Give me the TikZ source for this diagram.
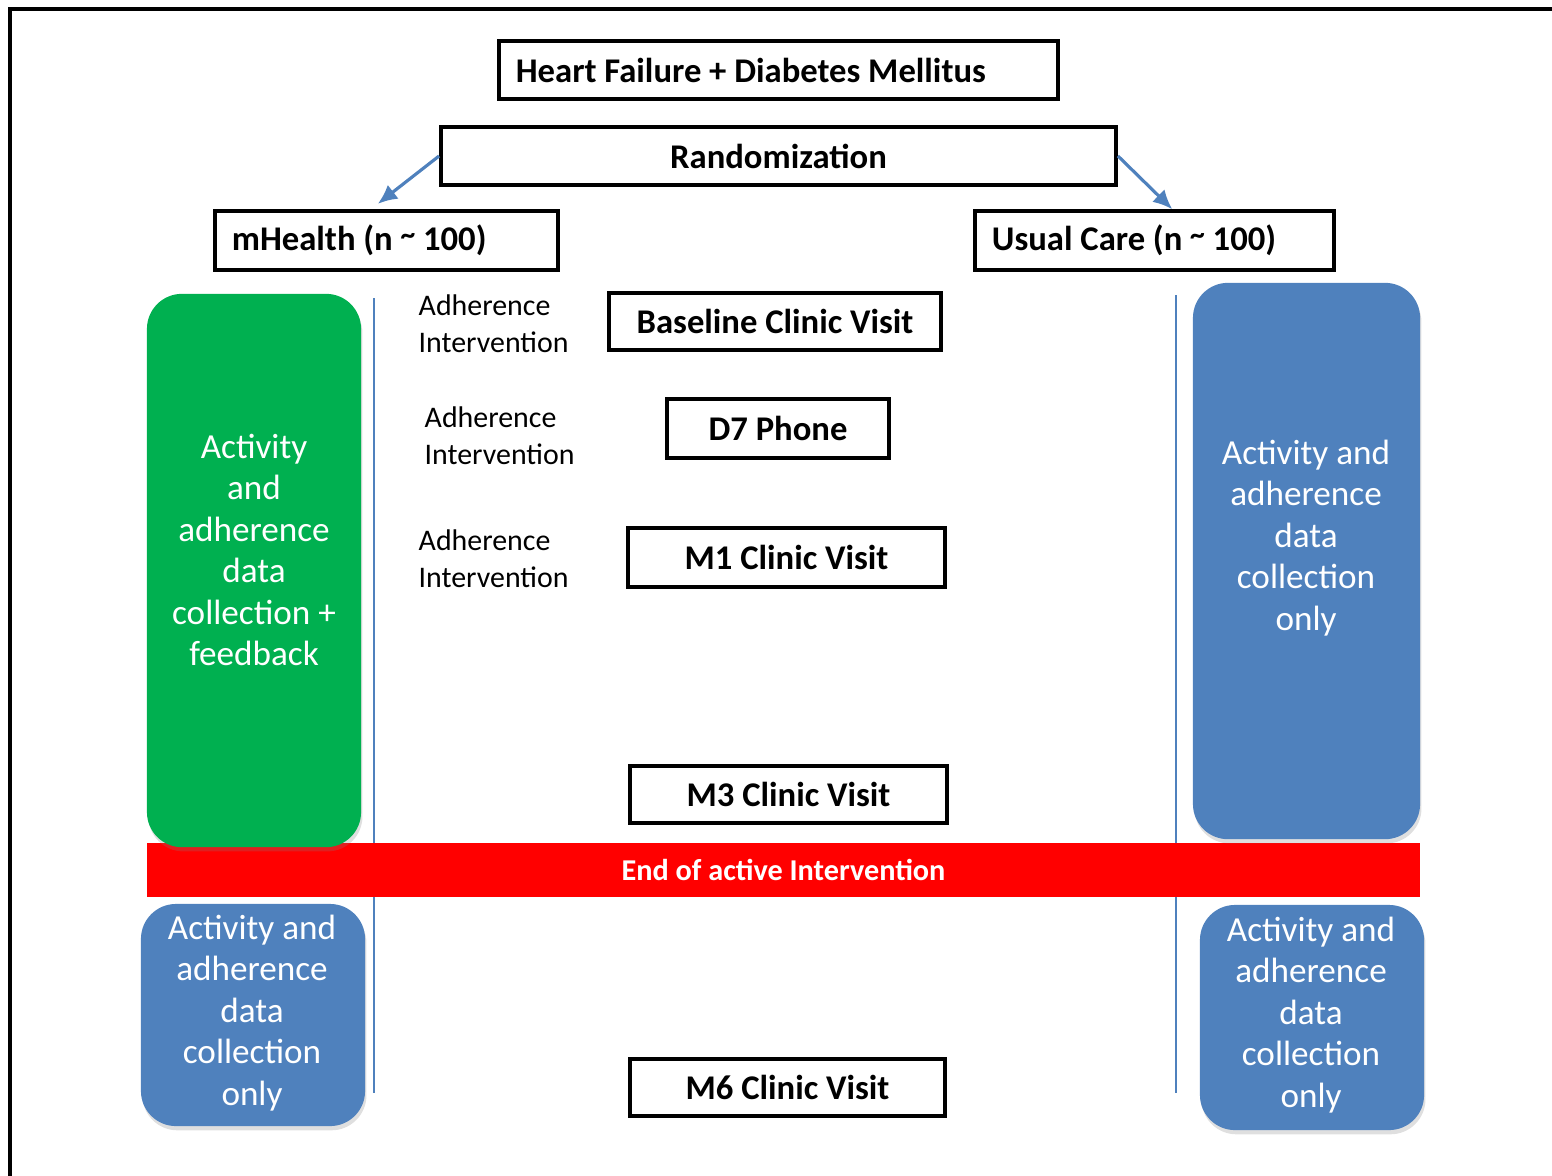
\documentclass[tikz,border=0pt]{standalone}
\usepackage{fontspec}
\setmainfont{Carlito}
\usetikzlibrary{calc}
\usetikzlibrary{positioning,arrows.meta,shadows}

\definecolor{armblue}{RGB}{79,129,189}
\definecolor{armgreen}{RGB}{0,176,80}
\newcommand{\approxsign}{\raisebox{0.18em}{\scalebox{0.85}{\textasciitilde}}}

\begin{document}
\begin{tikzpicture}[
        x=0.01cm, y=-0.01cm,
        BoxCfg/.style={
            draw,
            line width=1pt,
            inner sep=0pt,
            font=\fontsize{9.85}{12}\selectfont\bfseries
        },
        LeftBoxCfg/.style={BoxCfg, align=flush left, inner xsep=0.17cm},
        PillCfg/.style={
            rounded corners=0.35cm,
            inner sep=0pt,
            drop shadow={opacity=0.25, shadow xshift=0.4pt, shadow yshift=-1.2pt}
        },
        WhiteTxt/.style={text=white, align=center, font=\fontsize{10}{11.8}\selectfont},
        NoteTxt/.style={anchor=west, align=left, inner sep=0pt, font=\fontsize{8.5}{10.5}\selectfont},
        ArrowCfg/.style={draw=armblue, line width=0.9pt, -{Latex[length=5.5pt,width=5pt]}},
        TimeLine/.style={draw=armblue, line width=0.8pt}
    ]

    \useasboundingbox (0,0) rectangle (1552,1175);
    \clip (0,0) rectangle (1552,1175);

    % outer frame
    \draw[line width=1.2pt] (1600,9)coordinate (FR)--(10,9)coordinate (FC)--(10,1230)coordinate (FB);

    % top boxes
    \node[LeftBoxCfg, text width=5.25cm, minimum height=0.58cm] (hfdm) at (778.5,70) {Heart Failure + Diabetes Mellitus};
    \node[BoxCfg, minimum width=6.75cm, minimum height=0.58cm] (rand) at (778.5,156) {Randomization};
    \node[LeftBoxCfg, text width=3.09cm, minimum height=0.59cm] (mh) at (386.5,240.5) {mHealth (n \approxsign{} 100)};
    \node[LeftBoxCfg, text width=3.25cm, minimum height=0.59cm] (uc) at (1154.5,240.5) {Usual Care (n \approxsign{} 100)};

    \draw[ArrowCfg, shorten >=2.5pt] (rand.west)--($(mh.north west)!0.455!(mh.north east)$);
    \draw[ArrowCfg] (rand.east)--($(uc.north west)!0.549!(uc.north east)$);

    % time lines
    \draw[TimeLine] (374,298)coordinate (LT)--(374,1093)coordinate (LB);
    \draw[TimeLine] (1176,295)coordinate (RT)--(1176,1093)coordinate (RB);

    % visits
    \node[BoxCfg, minimum width=3.32cm, minimum height=0.57cm] (base) at (775,321.5) {Baseline Clinic Visit};
    \node[BoxCfg, minimum width=2.22cm, minimum height=0.59cm] (d7) at (778,428.5) {D7 Phone};
    \node[BoxCfg, minimum width=3.17cm, minimum height=0.59cm] (m1) at (786.5,557.5) {M1 Clinic Visit};
    \node[BoxCfg, minimum width=3.17cm, minimum height=0.57cm] (m3) at (788.5,794.5) {M3 Clinic Visit};
    \node[BoxCfg, minimum width=3.15cm, minimum height=0.57cm] (m6) at (787.5,1087.5) {M6 Clinic Visit};

    \node[NoteTxt] (ai1) at (418,323.5) {Adherence\\Intervention};
    \node[NoteTxt] (ai2) at (424,435.5) {Adherence\\Intervention};
    \node[NoteTxt] (ai3) at (418,558.5) {Adherence\\Intervention};

    % end of intervention
    \node[fill=red, minimum width=12.73cm, minimum height=0.54cm, inner sep=0pt,
          text=white, font=\fontsize{8.6}{10}\selectfont\bfseries] (eoi) at (783.5,870) {End of active Intervention};

    % arms
    \node[PillCfg, fill=armgreen, minimum width=2.14cm, minimum height=5.53cm] (mhPill) at (254,570.5) {};
    \node[WhiteTxt] (mhPillTxt) at (254,550) {Activity\\and\\adherence\\data\\collection +\\feedback};

    \node[PillCfg, fill=armblue, minimum width=2.27cm, minimum height=5.56cm] (ucPill) at (1306.5,561) {};
    \node[WhiteTxt] (ucPillTxt) at (1306,538) {Activity and\\adherence\\data\\collection\\only};

    \node[PillCfg, fill=armblue, minimum width=2.24cm, minimum height=2.22cm] (mhPost) at (253,1015) {};
    \node[WhiteTxt] (mhPostTxt) at (252,1013) {Activity and\\adherence\\data\\collection\\only};

    \node[PillCfg, fill=armblue, minimum width=2.24cm, minimum height=2.25cm] (ucPost) at (1312,1017.5) {};
    \node[WhiteTxt] (ucPostTxt) at (1311,1015) {Activity and\\adherence\\data\\collection\\only};

\end{tikzpicture}
\end{document}
